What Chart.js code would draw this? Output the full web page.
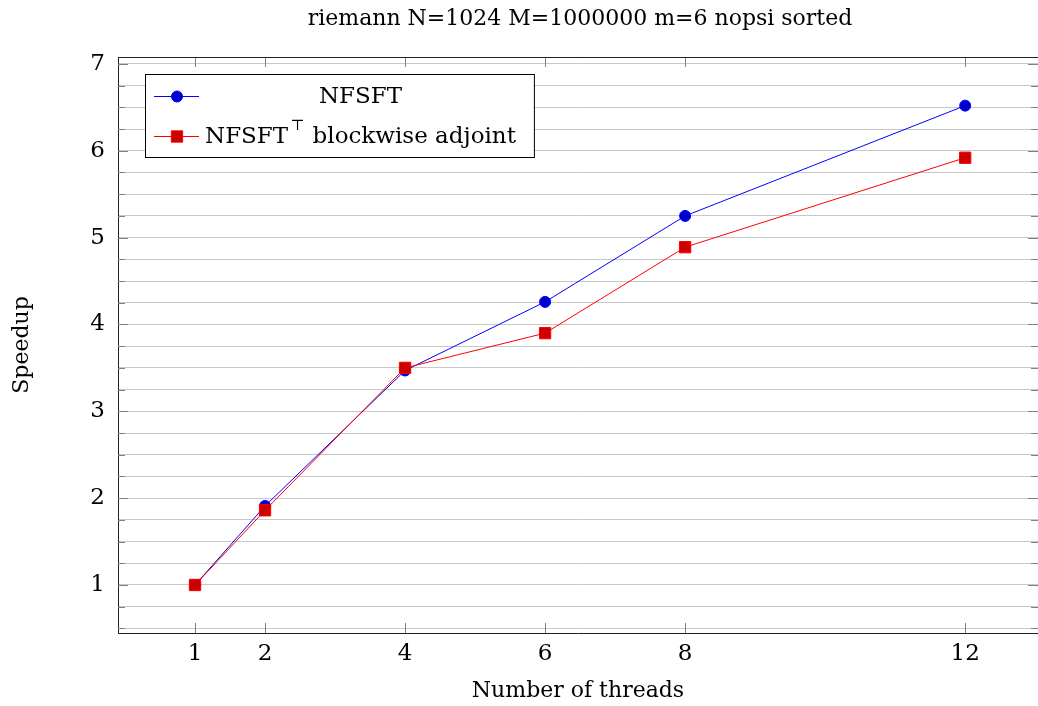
<!DOCTYPE html>
<html>
<head>
<meta charset="utf-8">
<script src="https://cdn.jsdelivr.net/npm/chart.js@4.4.0/dist/chart.umd.min.js"></script>
<style>
  html, body { margin: 0; padding: 0; background: #fff; }
  #wrap { width: 1038px; height: 706px; }
</style>
</head>
<body>
<div id="wrap"><canvas id="speedupChart" width="1038" height="706"></canvas></div>
<script>
const threads = [1, 2, 4, 6, 8, 12];
const speedupNfsft = [1, 1.91, 3.47, 4.26, 5.25, 6.52];
const speedupAdjoint = [1, 1.86, 3.50, 3.90, 4.89, 5.92];
const xTicks = [1, 2, 4, 6, 8, 12];
const yTicks = [1, 2, 3, 4, 5, 6, 7];
const yMinorStep = 0.25;
const seriesNames = ['NFSFT', 'NFSFT\u22A4 blockwise adjoint'];
const chartTitle = 'riemann N=1024 M=1000000 m=6 nopsi sorted';

const SERIF = "'DejaVu Serif', 'Liberation Serif', serif";

function toPoints(xs, ys) {
    return xs.map((x, i) => ({ x: x, y: ys[i] }));
}

function isMajor(v) {
    return yTicks.includes(Math.round(v * 100) / 100);
}

// title centred over the axis box like pgfplots does
const axisTitle = {
    id: 'axisTitle',
    afterDraw(chart) {
        const { ctx, chartArea: a } = chart;
        ctx.save();
        ctx.fillStyle = '#000';
        ctx.font = '22px ' + SERIF;
        ctx.textAlign = 'center';
        ctx.textBaseline = 'middle';
        ctx.fillText(chartTitle, (a.left + a.right) / 2 + 2, 19);
        ctx.restore();
    }
};

// frame on top plus the small inside ticks pgfplots draws
const frameTicks = {
    id: 'frameTicks',
    afterDatasetsDraw(chart) {
        const { ctx, chartArea: a, scales: { x, y } } = chart;
        ctx.save();
        ctx.lineWidth = 1;
        ctx.strokeStyle = '#7f7f7f';
        ctx.beginPath();
        y.ticks.forEach(t => {
            const py = Math.round(y.getPixelForValue(t.value)) + 0.5;
            if (py < a.top + 1 || py > a.bottom - 1) return;
            const len = isMajor(t.value) ? 10 : 7;
            ctx.moveTo(a.left, py); ctx.lineTo(a.left + len, py);
            ctx.moveTo(a.right, py); ctx.lineTo(a.right - len, py);
        });
        xTicks.forEach(v => {
            const px = Math.round(x.getPixelForValue(v)) + 0.5;
            ctx.moveTo(px, a.bottom); ctx.lineTo(px, a.bottom - 10);
            ctx.moveTo(px, a.top); ctx.lineTo(px, a.top + 10);
        });
        ctx.stroke();
        ctx.strokeStyle = '#222';
        ctx.beginPath();
        ctx.moveTo(a.left, a.top + 0.5);
        ctx.lineTo(a.right, a.top + 0.5);
        ctx.stroke();
        ctx.restore();
    }
};

// pgfplots style legend box inside the plot
const boxLegend = {
    id: 'boxLegend',
    afterDraw(chart) {
        const { ctx, chartArea: a } = chart;
        const ds = chart.data.datasets;
        const mainFont = '23px ' + SERIF;
        const supFont = '15px ' + SERIF;
        ctx.save();
        const widths = seriesNames.map(name => {
            const parts = name.split('\u22A4');
            ctx.font = mainFont;
            let w = ctx.measureText(parts[0]).width;
            if (parts.length > 1) {
                ctx.font = supFont;
                w += ctx.measureText('\u22A4').width + 3;
                ctx.font = mainFont;
                w += ctx.measureText(parts[1]).width;
            }
            return w;
        });
        const colW = Math.max(...widths);
        const left = a.left + 27, top = a.top + 17;
        const textLeft = left + 60;
        const boxW = textLeft - left + colW + 18;
        const boxH = 83;
        ctx.fillStyle = '#fff';
        ctx.fillRect(left, top, boxW, boxH);
        ctx.strokeStyle = '#000';
        ctx.lineWidth = 1;
        ctx.strokeRect(left + 0.5, top + 0.5, boxW, boxH);

        const rows = [top + 22, top + 62];
        ds.forEach((d, i) => {
            const cy = rows[i];
            ctx.strokeStyle = d.borderColor;
            ctx.lineWidth = 1;
            ctx.beginPath();
            ctx.moveTo(left + 9, cy + 0.5);
            ctx.lineTo(left + 54, cy + 0.5);
            ctx.stroke();
            ctx.fillStyle = d.pointBackgroundColor;
            ctx.strokeStyle = d.pointBorderColor;
            Chart.helpers.drawPoint(ctx, {
                pointStyle: d.pointStyle,
                radius: d.pointRadius,
                borderWidth: 1,
                rotation: 0
            }, left + 32, cy + 0.5);

            const parts = seriesNames[i].split('\u22A4');
            let tx = textLeft + (colW - widths[i]) / 2;
            ctx.fillStyle = '#000';
            ctx.textBaseline = 'middle';
            ctx.textAlign = 'left';
            ctx.font = mainFont;
            ctx.fillText(parts[0], tx, cy + 1);
            tx += ctx.measureText(parts[0]).width;
            if (parts.length > 1) {
                ctx.font = supFont;
                ctx.fillText('\u22A4', tx + 2, cy - 10);
                tx += ctx.measureText('\u22A4').width + 3;
                ctx.font = mainFont;
                ctx.fillText(parts[1], tx, cy + 1);
            }
        });
        ctx.restore();
    }
};

const ctx = document.getElementById('speedupChart').getContext('2d');
const chart = new Chart(ctx, {
    type: 'line',
    data: {
        datasets: [{
            label: seriesNames[0],
            data: toPoints(threads, speedupNfsft),
            borderColor: '#0000ff',
            borderWidth: 1,
            pointStyle: 'circle',
            pointRadius: 5.5,
            pointBackgroundColor: '#0000cc',
            pointBorderColor: '#0000ff',
            pointBorderWidth: 1,
            order: 1
        }, {
            label: seriesNames[1],
            data: toPoints(threads, speedupAdjoint),
            borderColor: '#ff0000',
            borderWidth: 1,
            pointStyle: 'rect',
            pointRadius: 8,
            pointBackgroundColor: '#cc0000',
            pointBorderColor: '#ff0000',
            pointBorderWidth: 1,
            order: 0
        }]
    },
    options: {
        responsive: false,
        animation: false,
        events: [],
        layout: { padding: { top: 57, left: 0, right: 0, bottom: 0 }, autoPadding: false },
        plugins: {
            legend: { display: false },
            tooltip: { enabled: false },
            title: { display: false }
        },
        scales: {
            x: {
                type: 'linear',
                min: -0.1,
                max: 13.04,
                afterBuildTicks: scale => {
                    scale.ticks = xTicks.map(v => ({ value: v }));
                },
                afterFit: scale => {
                    scale.height = 73;
                    scale.paddingLeft = 0;
                    scale.paddingRight = 0;
                },
                grid: { display: false, drawTicks: false },
                border: { display: true, color: '#222', width: 1 },
                ticks: {
                    color: '#000',
                    font: { family: SERIF, size: 23 },
                    padding: 7,
                    maxRotation: 0,
                    autoSkip: false
                },
                title: {
                    display: true,
                    text: 'Number of threads',
                    color: '#000',
                    font: { family: SERIF, size: 22 },
                    padding: { top: 0, bottom: 2 }
                }
            },
            y: {
                type: 'linear',
                min: 0.447,
                max: 7.08,
                afterBuildTicks: scale => {
                    const ticks = [];
                    const first = Math.ceil(scale.min / yMinorStep);
                    const last = Math.floor(scale.max / yMinorStep);
                    for (let k = first; k <= last; k++) ticks.push({ value: k * yMinorStep });
                    scale.ticks = ticks;
                },
                afterFit: scale => {
                    scale.width = 118;
                    scale.paddingTop = 0;
                    scale.paddingBottom = 0;
                },
                grid: { color: '#c8c8c8', lineWidth: 1, drawTicks: false },
                border: { display: true, color: '#222', width: 1 },
                ticks: {
                    autoSkip: false,
                    color: '#000',
                    font: { family: SERIF, size: 23 },
                    padding: 13,
                    callback: v => isMajor(v) ? String(Math.round(v)) : ''
                },
                title: {
                    display: true,
                    text: 'Speedup',
                    color: '#000',
                    font: { family: SERIF, size: 22 },
                    padding: { top: 9, bottom: 0 }
                }
            }
        }
    },
    plugins: [frameTicks, boxLegend, axisTitle]
});
</script>
</body>
</html>
